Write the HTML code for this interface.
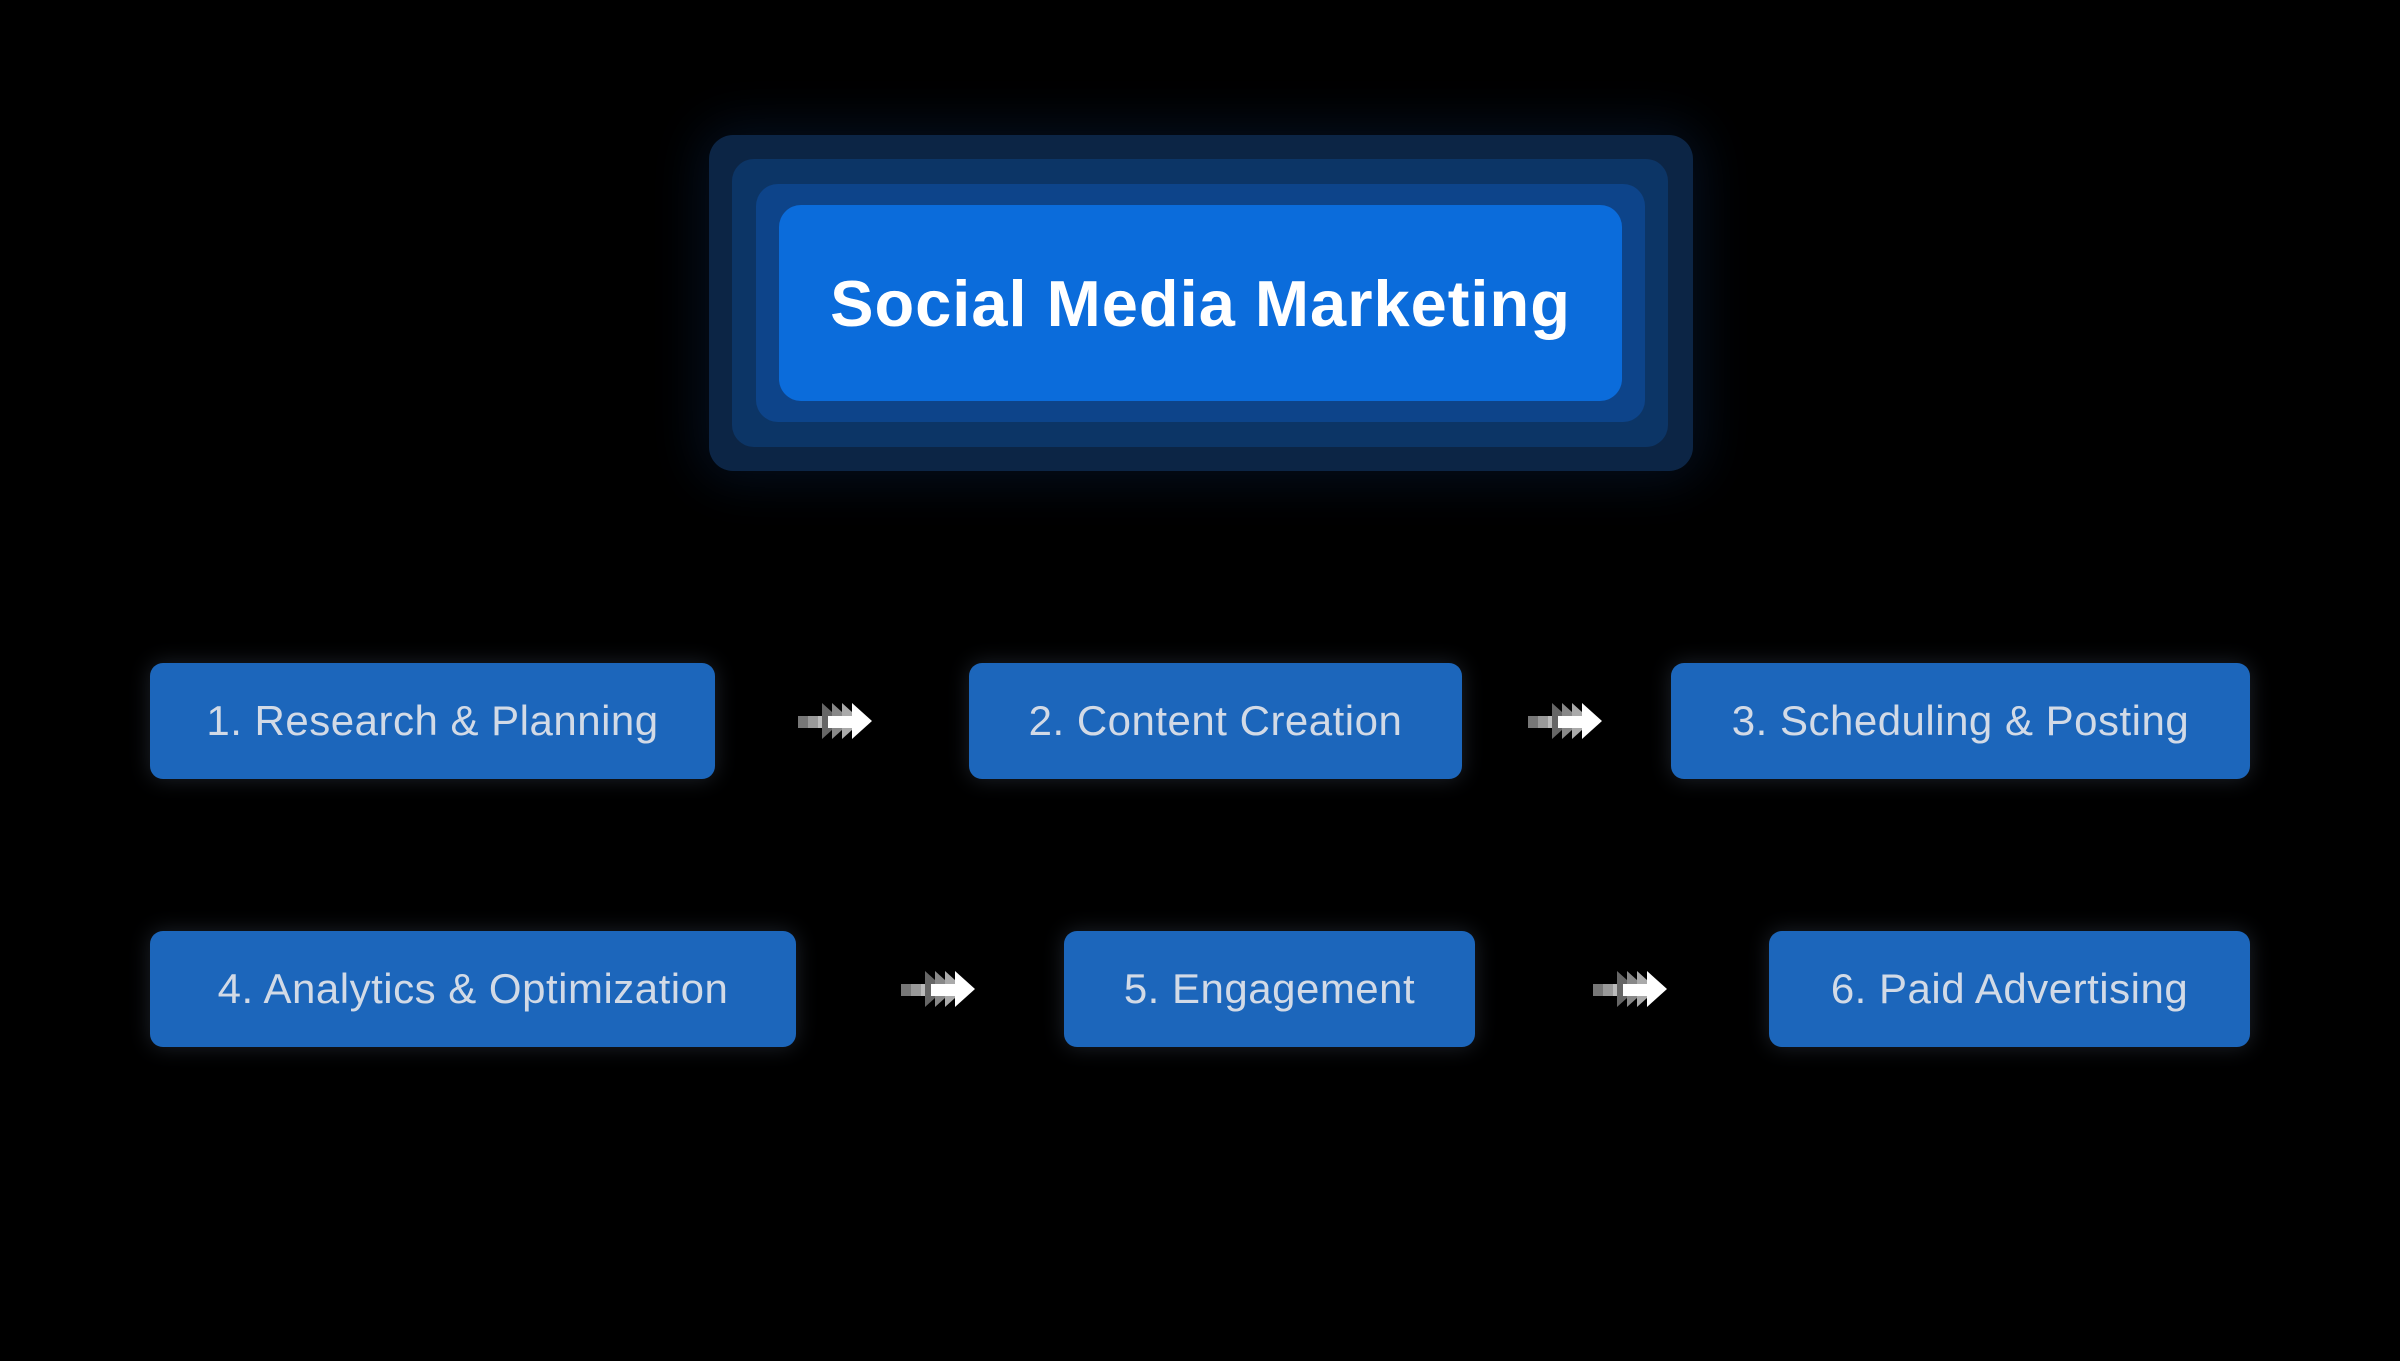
<!DOCTYPE html>
<html><head><style>
html,body{margin:0;padding:0;background:#000;}
body{width:2400px;height:1361px;position:relative;overflow:hidden;font-family:"Liberation Sans",sans-serif;}
.l{position:absolute;}
.box{position:absolute;background:#1c66bb;border-radius:13px;color:#d2dae6;font-size:42px;letter-spacing:0.5px;display:flex;align-items:center;justify-content:center;box-shadow:0 0 22px rgba(120,140,170,0.25);}
.arr{position:absolute;width:75px;height:36px;}
</style></head><body>
<div class="l" style="left:709px;top:135px;width:984px;height:336px;background:#0c2545;border-radius:24px;box-shadow:0 0 50px 10px rgba(20,60,120,0.25);"></div>
<div class="l" style="left:732px;top:159px;width:936px;height:288px;background:#0c3566;border-radius:22px;"></div>
<div class="l" style="left:756px;top:184px;width:889px;height:238px;background:#0d448a;border-radius:22px;"></div>
<div class="l" style="left:779px;top:205px;width:843px;height:196px;background:#0b6cdb;border-radius:22px;color:#fff;font-weight:bold;font-size:65px;letter-spacing:1px;display:flex;align-items:center;justify-content:center;">Social Media Marketing</div>

<div class="box" style="left:150px;top:663px;width:565px;height:116px;">1. Research &amp; Planning</div>
<div class="box" style="left:969px;top:663px;width:493px;height:116px;">2. Content Creation</div>
<div class="box" style="left:1671px;top:663px;width:579px;height:116px;">3. Scheduling &amp; Posting</div>
<div class="box" style="left:150px;top:931px;width:646px;height:116px;">4. Analytics &amp; Optimization</div>
<div class="box" style="left:1064px;top:931px;width:411px;height:116px;">5. Engagement</div>
<div class="box" style="left:1769px;top:931px;width:481px;height:116px;">6. Paid Advertising</div>

<svg width="0" height="0" style="position:absolute"><defs>
<g id="a">
<rect x="1" y="13" width="10" height="12" fill="#777"/>
<rect x="11" y="13" width="10" height="12" fill="#999"/>
<rect x="21" y="13" width="10" height="12" fill="#bbb"/>
<polygon points="25,0 45,18 25,36" fill="#666"/>
<polygon points="35,0 55,18 35,36" fill="#888"/>
<polygon points="45,0 65,18 45,36" fill="#aaa"/>
<rect x="31" y="13" width="25" height="12" fill="#fff"/>
<polygon points="55,0 75,18 55,36" fill="#fff"/>
</g></defs></svg>
<svg class="arr" style="left:797px;top:703px" viewBox="0 0 75 36"><use href="#a"/></svg>
<svg class="arr" style="left:1527px;top:703px" viewBox="0 0 75 36"><use href="#a"/></svg>
<svg class="arr" style="left:900px;top:971px" viewBox="0 0 75 36"><use href="#a"/></svg>
<svg class="arr" style="left:1592px;top:971px" viewBox="0 0 75 36"><use href="#a"/></svg>
</body></html>
